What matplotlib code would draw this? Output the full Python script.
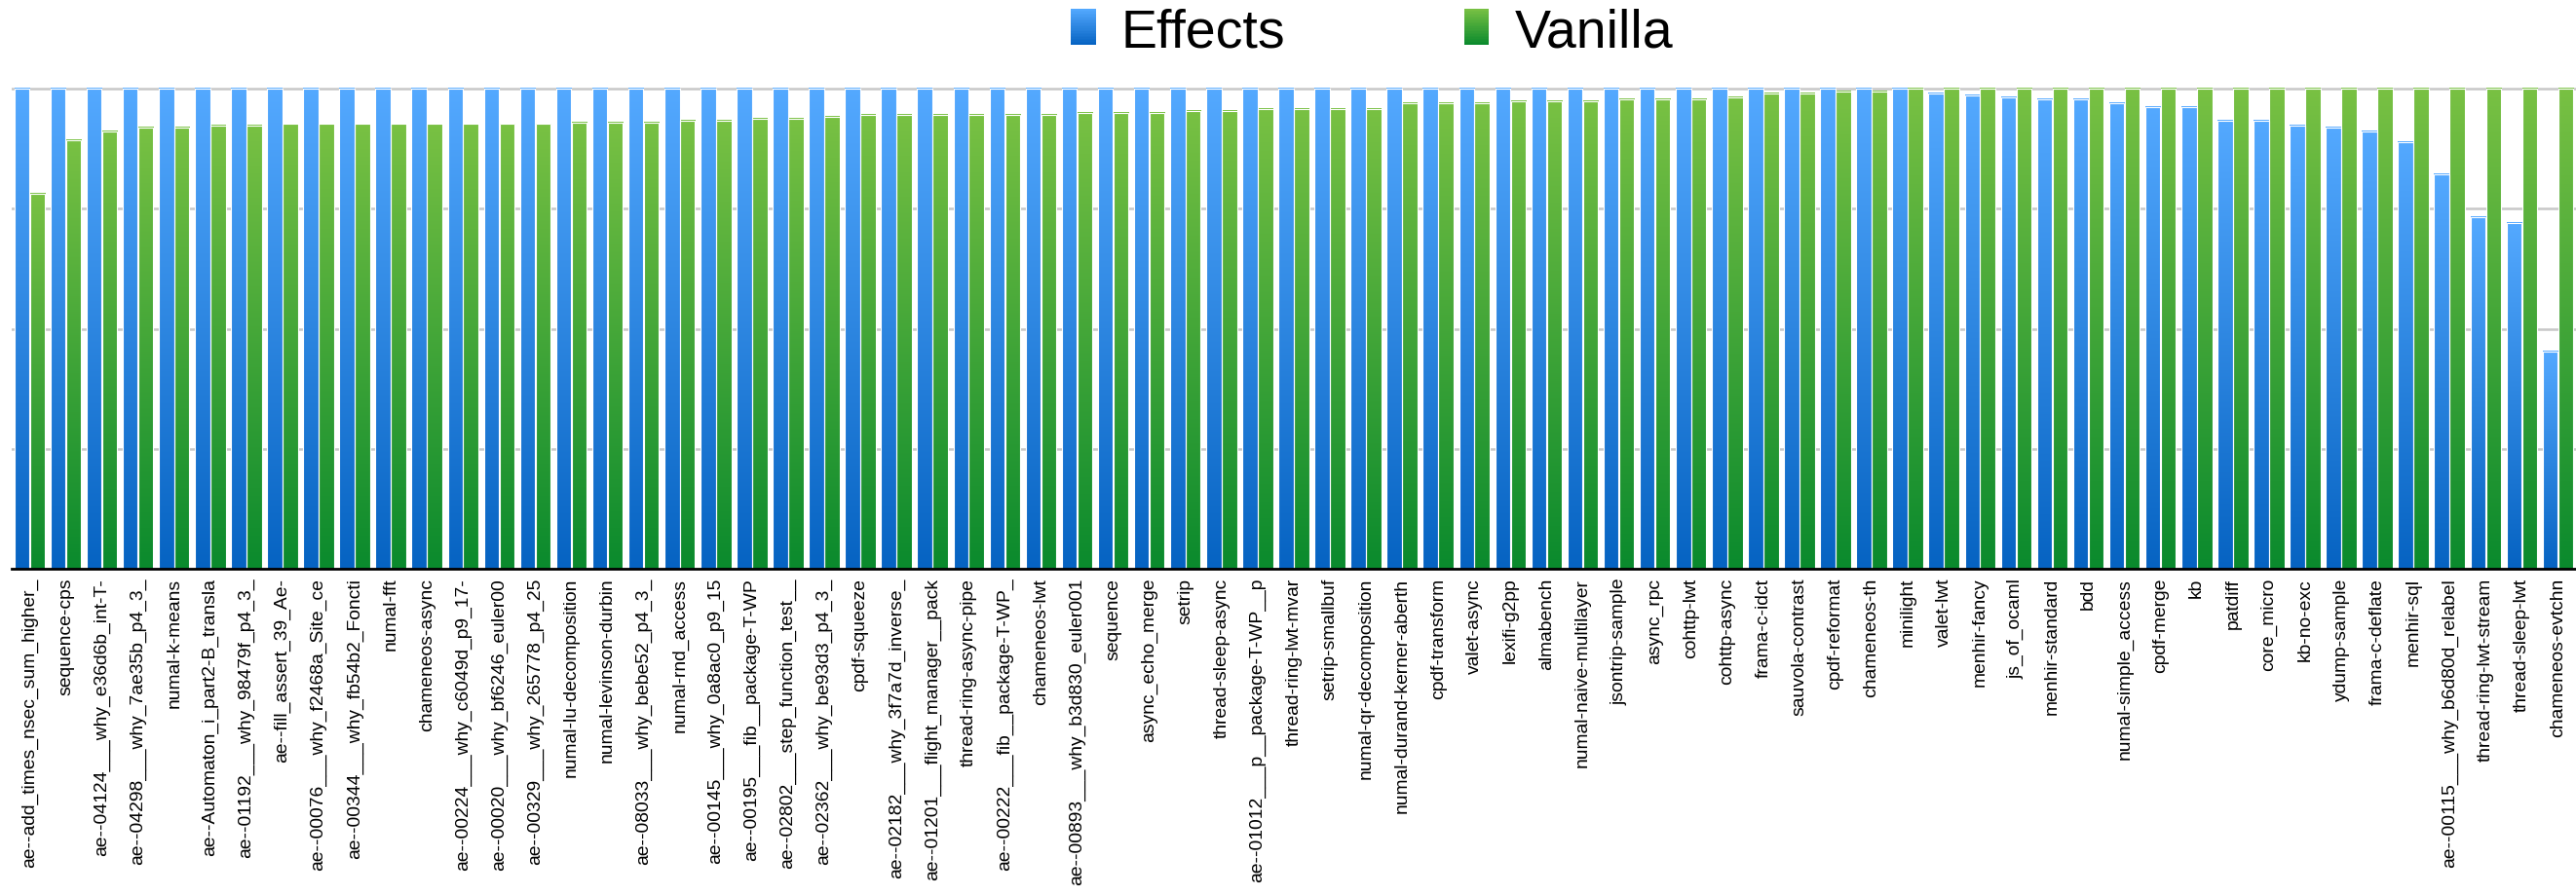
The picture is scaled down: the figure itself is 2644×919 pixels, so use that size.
import numpy as np
import matplotlib
matplotlib.use("Agg")
from matplotlib import pyplot as plt
from matplotlib.colors import LinearSegmentedColormap, to_rgb
from matplotlib.patches import Rectangle
from matplotlib.legend_handler import HandlerBase

plt.rcParams['font.family'] = ['Liberation Sans', 'DejaVu Sans']

benchmarks = [
    "ae--add_times_nsec_sum_higher_", "sequence-cps", "ae--04124___why_e36d6b_int-T-",
    "ae--04298___why_7ae35b_p4_3_", "numal-k-means", "ae--Automaton_i_part2-B_transla",
    "ae--01192___why_98479f_p4_3_", "ae--fill_assert_39_Ae-", "ae--00076___why_f2468a_Site_ce",
    "ae--00344___why_fb54b2_Foncti", "numal-fft", "chameneos-async",
    "ae--00224___why_c6049d_p9_17-", "ae--00020___why_bf6246_euler00", "ae--00329___why_265778_p4_25",
    "numal-lu-decomposition", "numal-levinson-durbin", "ae--08033___why_bebe52_p4_3_",
    "numal-rnd_access", "ae--00145___why_0a8ac0_p9_15", "ae--00195___fib__package-T-WP",
    "ae--02802___step_function_test__", "ae--02362___why_be93d3_p4_3_", "cpdf-squeeze",
    "ae--02182___why_3f7a7d_inverse_", "ae--01201___flight_manager__pack", "thread-ring-async-pipe",
    "ae--00222___fib__package-T-WP_", "chameneos-lwt", "ae--00893___why_b3d830_euler001",
    "sequence", "async_echo_merge", "setrip",
    "thread-sleep-async", "ae--01012___p__package-T-WP__p", "thread-ring-lwt-mvar",
    "setrip-smallbuf", "numal-qr-decomposition", "numal-durand-kerner-aberth",
    "cpdf-transform", "valet-async", "lexifi-g2pp",
    "almabench", "numal-naive-multilayer", "jsontrip-sample",
    "async_rpc", "cohttp-lwt", "cohttp-async",
    "frama-c-idct", "sauvola-contrast", "cpdf-reformat",
    "chameneos-th", "minilight", "valet-lwt",
    "menhir-fancy", "js_of_ocaml", "menhir-standard",
    "bdd", "numal-simple_access", "cpdf-merge",
    "kb", "patdiff", "core_micro",
    "kb-no-exc", "ydump-sample", "frama-c-deflate",
    "menhir-sql", "ae--00115___why_b6d80d_relabel", "thread-ring-lwt-stream",
    "thread-sleep-lwt", "chameneos-evtchn",
]

# normalised run time, best of the two = 1
effects = [
    1.0, 1.0, 1.0, 1.0, 1.0, 1.0, 1.0, 1.0, 1.0, 1.0,
    1.0, 1.0, 1.0, 1.0, 1.0, 1.0, 1.0, 1.0, 1.0, 1.0,
    1.0, 1.0, 1.0, 1.0, 1.0, 1.0, 1.0, 1.0, 1.0, 1.0,
    1.0, 1.0, 1.0, 1.0, 1.0, 1.0, 1.0, 1.0, 1.0, 1.0,
    1.0, 1.0, 1.0, 1.0, 1.0, 1.0, 1.0, 1.0, 1.0, 1.0,
    1.0, 1.0, 1.0, 0.990, 0.986, 0.982, 0.978, 0.978, 0.970, 0.962,
    0.962, 0.934, 0.934, 0.922, 0.918, 0.910, 0.889, 0.821, 0.732, 0.720,
    0.452,
]
vanilla = [
    0.781, 0.893, 0.910, 0.918, 0.918, 0.922, 0.922, 0.926, 0.926, 0.926,
    0.926, 0.926, 0.926, 0.926, 0.926, 0.930, 0.930, 0.930, 0.934, 0.934,
    0.938, 0.938, 0.942, 0.946, 0.946, 0.946, 0.946, 0.946, 0.946, 0.950,
    0.950, 0.950, 0.954, 0.954, 0.958, 0.958, 0.958, 0.958, 0.970, 0.970,
    0.970, 0.974, 0.974, 0.974, 0.978, 0.978, 0.978, 0.982, 0.990, 0.990,
    0.994, 0.994, 1.0, 1.0, 1.0, 1.0, 1.0, 1.0, 1.0, 1.0,
    1.0, 1.0, 1.0, 1.0, 1.0, 1.0, 1.0, 1.0, 1.0, 1.0,
    1.0,
]

# (bottom, top) colours of the gradients
BLUE = ("#0663C2", "#54A9FF")
GREEN = ("#0A8A2D", "#79C143")


class GradientSquare(HandlerBase):
    def __init__(self, colors):
        super().__init__()
        self.colors = colors

    def create_artists(self, legend, orig_handle, xdescent, ydescent,
                       width, height, fontsize, trans):
        lo = np.array(to_rgb(self.colors[0]))
        hi = np.array(to_rgb(self.colors[1]))
        n = 24
        out = []
        for i in range(n):
            c = lo + (hi - lo) * (i + 0.5) / n
            r = Rectangle((-xdescent, -ydescent + i * height / n), width, height / n + 0.3,
                          facecolor=c, edgecolor='none', transform=trans)
            out.append(r)
        return out


fig = plt.figure(figsize=(26.44, 9.2), dpi=100)
ax = fig.add_axes([0.0045, 0.3636, 0.9955, 0.5375])

x = np.arange(len(benchmarks))
w = 0.42
grad = np.linspace(0, 1, 256).reshape(-1, 1)


def gradient_bars(xs, heights, colors):
    cmap = LinearSegmentedColormap.from_list("grad", colors)
    for xc, h in zip(xs, heights):
        ax.imshow(grad, extent=[xc - w / 2, xc + w / 2, 0, h], origin='lower',
                  aspect='auto', cmap=cmap, zorder=2, interpolation='bilinear')
    ax.bar(xs, heights, w, facecolor='none', edgecolor='white', linewidth=0.8, zorder=3)


gradient_bars(x - 0.215, effects, BLUE)
gradient_bars(x + 0.215, vanilla, GREEN)

ax.set_xlim(-0.5, len(benchmarks) - 0.5)
ax.set_ylim(0, 1.002)
ax.set_yticks([0.25, 0.5, 0.75, 1.0])
ax.yaxis.grid(True, color='#C8C8C8', linewidth=1.8)
ax.set_axisbelow(True)
ax.tick_params(axis='y', left=False, labelleft=False)
ax.set_xticks(x)
ax.set_xticklabels(benchmarks, rotation=90, fontsize=13.9)
ax.tick_params(axis='x', length=0, pad=6)
for s in ['left', 'right', 'top']:
    ax.spines[s].set_visible(False)
ax.spines['bottom'].set_linewidth(2)
ax.spines['bottom'].set_color('black')
ax.spines['bottom'].set_zorder(4)

h_eff = Rectangle((0, 0), 1, 1)
h_van = Rectangle((0, 0), 1, 1)
fig.legend([h_eff, h_van], ["Effects", "Vanilla"], loc='center',
           bbox_to_anchor=(0.5325, 0.963), ncol=2, frameon=False, fontsize=40,
           handlelength=0.46, handleheight=0.63, handletextpad=0.47, columnspacing=3.3,
           handler_map={h_eff: GradientSquare(BLUE), h_van: GradientSquare(GREEN)})

fig.savefig("out.png", dpi=100)
